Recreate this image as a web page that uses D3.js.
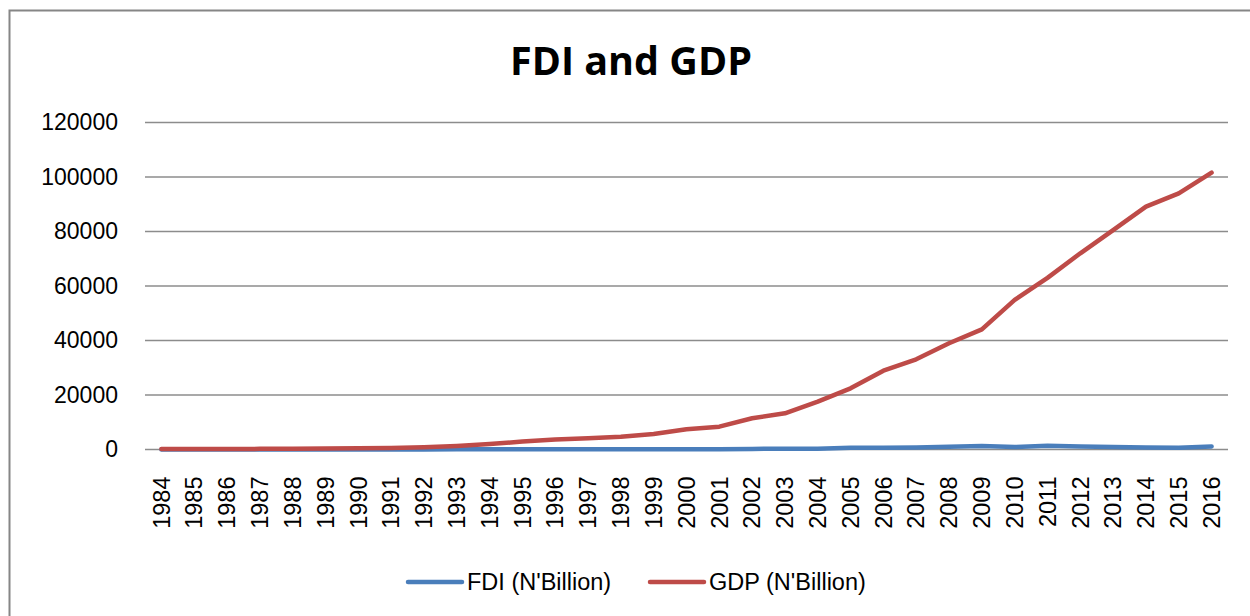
<!DOCTYPE html>
<html>
<head>
<meta charset="utf-8">
<script src="https://cdn.jsdelivr.net/npm/d3@7"></script>
<style>
  body { margin: 0; background: #fff; }
  svg text { font-family: "Liberation Sans", Arial, sans-serif; fill: #000; }
</style>
</head>
<body>
<div id="chart"></div>
<script>
// data (N'Billion)
var years = d3.range(1984, 2017).map(String);
var fdi = [1.4, 0.5, 4, 9, 3, 5, 10.5, 11, 32, 88, 84, 76, 84, 85, 89, 91,
  116, 133, 225, 258, 249, 654, 625, 759, 1000, 1274, 906, 1360, 1114, 875, 739, 600, 1124];
var gdp = [150, 170, 180, 230, 280, 380, 450, 550, 800, 1300, 2000, 2900, 3700, 4100, 4700, 5700,
  7400, 8370, 11450, 13280, 17540, 22450, 28900, 33100, 39000, 44100, 54900, 63000, 72000, 80500, 89100, 94000, 101600];
var yTicks = [0, 20000, 40000, 60000, 80000, 100000, 120000];
var seriesNames = ["FDI (N'Billion)", "GDP (N'Billion)"];
var colors = ["#4a7ebb", "#be4b48"];

chart();
function chart(){
	var W = 1250, H = 616;
	var margin = {top: 122.5, left: 145, right: 22, bottom: 166.5};
	var ancho = W - margin.left - margin.right;
	var alto = H - margin.top - margin.bottom;

	var svg = d3.select("#chart").append("svg")
		.attr("width", W).attr("height", H);

	// outer chart border (runs off the right and bottom edges)
	svg.append("rect")
		.attr("x", 9.5).attr("y", 10.5)
		.attr("width", 1260).attr("height", 640)
		.style("fill", "none").style("stroke", "#868686").style("stroke-width", 2);

	svg.append("text")
		.attr("x", 631).attr("y", 75)
		.attr("text-anchor", "middle")
		.style("font-family", "'Open Sans', sans-serif")
		.style("font-weight", "700").style("font-size", "39.5px")
		.text("FDI and GDP");

	var g = svg.append("g").attr("transform", `translate(${margin.left},${margin.top})`);

	var x = d3.scaleBand().domain(years).range([0, ancho]);
	var y = d3.scaleLinear().domain([0, 120000]).range([alto, 0]);

	// gridlines
	g.selectAll(".grid").data(yTicks).enter().append("line")
		.attr("class", "grid")
		.attr("x1", 0).attr("x2", ancho)
		.attr("y1", d => y(d)).attr("y2", d => y(d))
		.style("stroke", "#8c8c8c").style("stroke-width", 1.5);

	// y axis labels
	var yAxis = d3.axisLeft(y).tickValues(yTicks).tickSize(0).tickPadding(27).tickFormat(d3.format("d"));
	var ya = g.append("g").call(yAxis);
	ya.select(".domain").remove();
	ya.selectAll("text").style("font-size", "23px").style("font-family", "'Liberation Sans', sans-serif");

	// x axis labels, rotated
	var xAxis = d3.axisBottom(x).tickSize(0);
	var xa = g.append("g").attr("transform", `translate(0,${alto})`).call(xAxis);
	xa.select(".domain").remove();
	xa.selectAll("text")
		.attr("transform", "rotate(-90)")
		.attr("x", -27).attr("y", 0).attr("dy", "0.35em")
		.attr("text-anchor", "end")
		.style("font-size", "23.5px").style("font-family", "'Liberation Sans', sans-serif");

	var line = d3.line()
		.x((d, i) => x(years[i]) + x.bandwidth() / 2)
		.y(d => y(d));

	[fdi, gdp].forEach(function(s, k){
		g.append("path").datum(s)
			.attr("d", line)
			.style("fill", "none")
			.style("stroke", colors[k])
			.style("stroke-width", 4.5)
			.style("stroke-linejoin", "round")
			.style("stroke-linecap", "round");
	});

	// legend
	var legX = [408, 650];
	var leg = svg.selectAll(".leg").data(seriesNames).enter().append("g")
		.attr("class", "leg")
		.attr("transform", (d, i) => `translate(${legX[i]},582)`);
	leg.append("line")
		.attr("x1", 0).attr("x2", 54).attr("y1", 0).attr("y2", 0)
		.style("stroke", (d, i) => colors[i]).style("stroke-width", 4.5)
		.style("stroke-linecap", "round");
	leg.append("text")
		.attr("x", 59).attr("y", 0).attr("dy", "0.35em")
		.style("font-size", "23.5px")
		.text(d => d);
}
</script>
</body>
</html>
